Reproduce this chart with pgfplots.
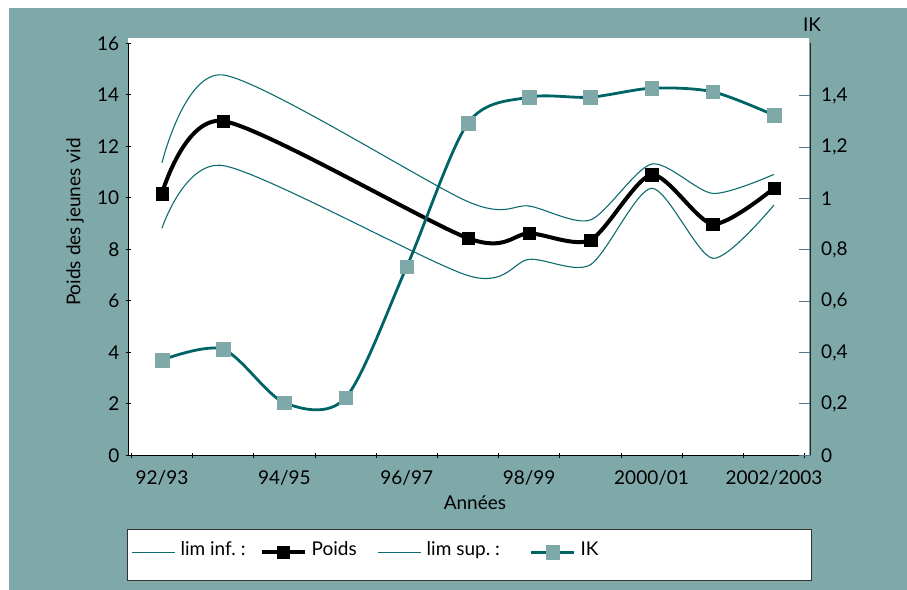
\documentclass[border=0pt]{standalone}
\usepackage{pgfplots}
\pgfplotsset{compat=1.18}
\usepackage{fontspec}
\setmainfont{Lato}

\definecolor{bgteal}{RGB}{127,168,168}
\definecolor{ikteal}{RGB}{0,100,102}
\definecolor{limteal}{RGB}{14,108,112}
\definecolor{tickblue}{RGB}{88,118,135}

\pgfplotsset{
  /pgf/number format/assume math mode=true,
  legend image code/.code={%
    \draw[mark repeat=2,mark phase=2,yshift=3bp,#1]
      plot coordinates {(0bp,0bp) (21.5bp,0bp) (43bp,0bp)};},
}

\begin{document}
\fontsize{19bp}{22bp}\selectfont
\begin{tikzpicture}
% frame
\fill[white] (0,0) rectangle (907bp,590bp);
\fill[bgteal] (9bp,0) rectangle (907bp,582bp);
\fill[white] (128bp,134bp) rectangle (809bp,552bp);
\useasboundingbox (0,0) rectangle (907bp,590bp);

\begin{axis}[
  at={(128.3bp,134.7bp)}, anchor=south west,
  scale only axis, width=682.4bp, height=412bp,
  xmin=-0.55, xmax=10.6, ymin=0, ymax=16,
  axis x line*=bottom, axis y line*=left,
  axis line style={black, line width=1bp},
  xtick={0,2,4,6,8,10},
  xticklabels={92/93,94/95,96/97,98/99,2000/01,2002/2003},
  minor xtick={-0.5,0.5,...,10.5},
  major x tick style={draw=none},
  minor x tick style={black, line width=0.9bp},
  minor tick length=5bp,
  ytick={0,2,...,16},
  y tick style={black, line width=0.9bp},
  major tick length=5bp,
  tick align=center,
  xticklabel style={yshift=-6bp},
  ylabel={Poids des jeunes vid},
  ylabel style={at={(axis description cs:-0.078,0.566)}, anchor=center},
  xlabel={Années},
  xlabel style={at={(axis description cs:0.508,-0.116)}, anchor=center},
  legend style={
    at={(axis description cs:-0.002,-0.179)}, anchor=north west,
    legend columns=4, fill=white, draw=black!80, line width=1.2bp,
    inner xsep=4bp, inner ysep=13bp,
    nodes={inner sep=0bp, text height=13bp, text depth=12bp},
    /tikz/every even column/.append style={column sep=0bp},
  },
  legend cell align=left,
]
\addplot[limteal, line width=1.1bp, smooth, tension=0.45] coordinates {
  (0,8.82) (1,11.25) (5,6.98) (6,7.61) (7,7.40) (8,10.37) (9,7.65) (10,9.72)
};
\addlegendentry{\makebox[84bp][l]{\hspace{5bp}lim inf.~:}}
\addplot[black, line width=4bp, smooth, tension=0.45,
  mark=square*, mark size=6.3bp, mark options={solid, line width=0.3bp}] coordinates {
  (0,10.17) (1,12.98) (5,8.43) (6,8.62) (7,8.36) (8,10.89) (9,8.98) (10,10.37)
};
\addlegendentry{\makebox[71bp][l]{\hspace{5bp}Poids}}
\addplot[limteal, line width=1.1bp, smooth, tension=0.45] coordinates {
  (0,11.36) (1,14.77) (5,9.85) (6,9.68) (7,9.14) (8,11.31) (9,10.17) (10,10.91)
};
\addlegendentry{\makebox[108bp][l]{\hspace{5bp}lim sup.~:}}
\addlegendimage{ikteal, line width=2.8bp, mark=square*, mark size=6.8bp,
  mark options={solid, fill=bgteal, draw=bgteal, line width=0.3bp}}
\addlegendentry{\makebox[232bp][l]{\hspace{5bp}IK}}
\end{axis}

\begin{axis}[
  at={(128.3bp,134.7bp)}, anchor=south west,
  scale only axis, width=682.4bp, height=412bp,
  xmin=-0.55, xmax=10.6, ymin=0, ymax=1.605,
  axis x line=none, axis y line*=right,
  axis line style={black!85, line width=1bp},
  ytick={0,0.2,0.4,0.6,0.8,1,1.2,1.4},
  y tick style={tickblue, line width=1bp},
  major tick length=12bp, tick align=inside,
  yticklabel style={xshift=4bp, /pgf/number format/.cd, use comma, fixed, precision=1},
  clip=false,
]
\addplot[ikteal, line width=2.8bp, smooth, tension=0.5,
  mark=square*, mark size=6.8bp,
  mark options={solid, fill=bgteal, draw=bgteal, line width=0.3bp}] coordinates {
  (0,0.371) (1,0.413) (2,0.205) (3,0.224) (4,0.735) (5,1.294)
  (6,1.395) (7,1.395) (8,1.430) (9,1.416) (10,1.325)
};
\node at (rel axis cs:1.002,1.044) {IK};
\end{axis}
\end{tikzpicture}
\end{document}
